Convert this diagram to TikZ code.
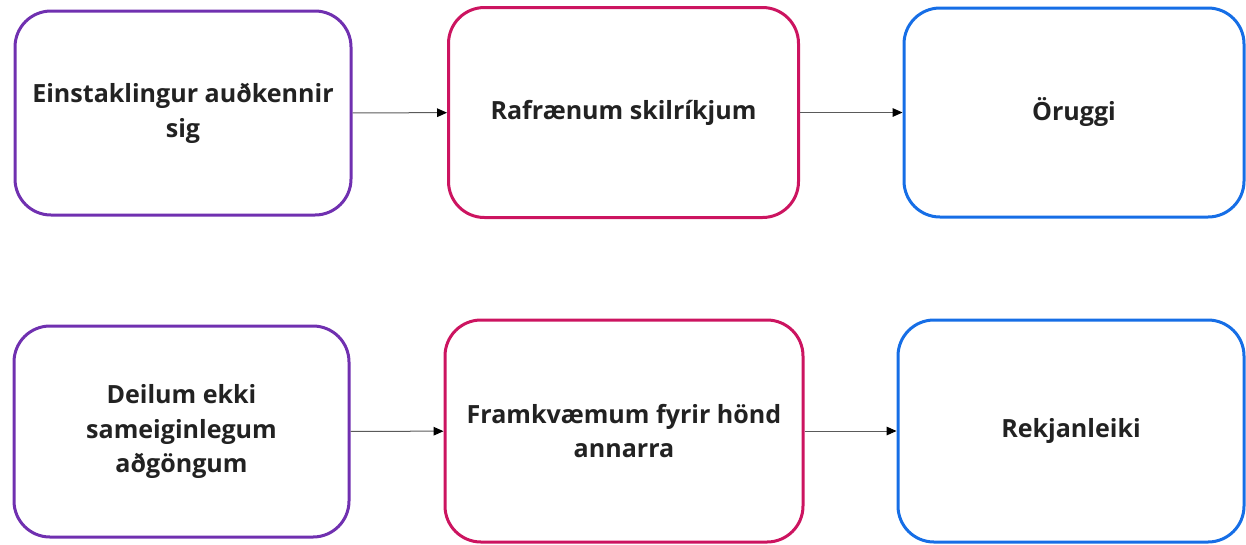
\documentclass[tikz,border=0pt]{standalone}
\usepackage{fontspec}
\setmainfont{Open Sans}
\usetikzlibrary{arrows.meta}
\definecolor{purp}{RGB}{112,48,176}
\definecolor{rose}{RGB}{204,20,96}
\definecolor{azure}{RGB}{22,110,230}
\definecolor{ink}{RGB}{34,34,34}
\definecolor{wire}{RGB}{90,90,90}
\begin{document}
\begin{tikzpicture}[x=0.75pt,y=-0.75pt]
    \tikzstyle{stepbox}=[draw, line width=2.25pt, rounded corners=27pt, fill=white, align=center, text=ink, font=\fontsize{18.8}{26.2}\selectfont\bfseries]
    \tikzstyle{flow}=[draw=wire, line width=0.75pt, -{Triangle[length=7.5pt,width=6.5pt,color=black]}]
    \useasboundingbox (0,0) rectangle (1246,544);
    \node [stepbox, draw=purp, minimum width=252pt, minimum height=153pt] (einst) at (183,113) {Einstaklingur auðkennir\\sig};
    \node [stepbox, draw=rose, minimum width=262.5pt, minimum height=157.5pt] (rafr) at (623.5,112.5) {Rafrænum skilríkjum};
    \node [stepbox, draw=azure, minimum width=255pt, minimum height=156.75pt] (oruggi) at (1074,112.5) {Öruggi};
    \node [stepbox, draw=purp, minimum width=251.25pt, minimum height=158.25pt] (deilum) at (181.5,431.5) {Deilum ekki\\sameiginlegum\\aðgöngum};
    \node [stepbox, draw=rose, minimum width=268.5pt, minimum height=166.5pt] (framkv) at (624,431) {Framkvæmum fyrir hönd\\annarra};
    \node [stepbox, draw=azure, minimum width=259.5pt, minimum height=166.5pt] (rekjan) at (1071,431) {Rekjanleiki};
    \draw [flow] (einst) -- (rafr);
    \draw [flow] (rafr) -- (oruggi);
    \draw [flow] (deilum) -- (framkv);
    \draw [flow] (framkv) -- (rekjan);
\end{tikzpicture}
\end{document}
